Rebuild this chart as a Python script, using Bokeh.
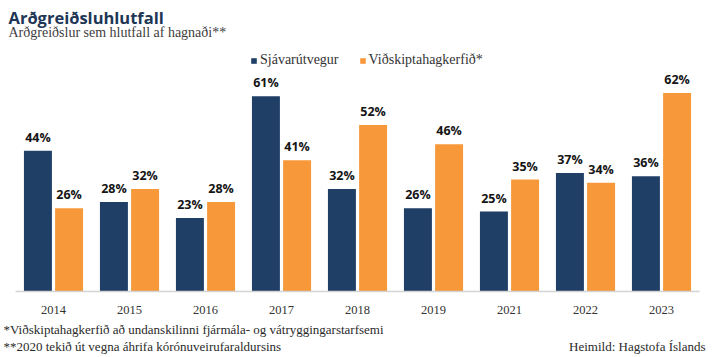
from bokeh.plotting import figure
from bokeh.layouts import column
from bokeh.models import FactorRange, Range1d, Label, Legend, LegendItem, ColumnDataSource
from bokeh.transform import dodge
from bokeh.core.properties import value
from bokeh.embed import file_html
from bokeh.resources import INLINE

years = ["2014", "2015", "2016", "2017", "2018", "2019", "2021", "2022", "2023"]
sjavarutvegur = [44, 28, 23, 61, 32, 26, 25, 37, 36]
vidskipta = [26, 32, 28, 41, 52, 46, 35, 34, 62]

title = "Arðgreiðsluhlutfall"
subtitle = "Arðgreiðslur sem hlutfall af hagnaði**"
series_names = ["Sjávarútvegur", "Viðskiptahagkerfið*"]
note1 = "*Viðskiptahagkerfið að undanskilinni fjármála- og vátryggingarstarfsemi"
note2 = "**2020 tekið út vegna áhrifa kórónuveirufaraldursins"
source_note = "Heimild: Hagstofa Íslands"

NAVY = "#1f3f66"
ORANGE = "#f7993b"
SERIF = "Liberation Serif"
W = 713


def blank(height):
    f = figure(width=W, height=height, x_range=Range1d(0, 1), y_range=Range1d(0, 1),
               min_border=0, min_border_left=0, min_border_right=0,
               min_border_top=0, min_border_bottom=0,
               x_axis_location=None, y_axis_location=None, frame_align=False,
               toolbar_location=None, output_backend="svg", outline_line_color=None,
               background_fill_color="white", border_fill_color="white")
    f.xgrid.grid_line_color = None
    f.ygrid.grid_line_color = None
    return f


def lab(f, x, y, text, **kw):
    f.add_layout(Label(x=x, y=y, x_units="screen", y_units="screen", text=text,
                       text_baseline="alphabetic", **kw))


# ---- header ----
head = blank(48)
lab(head, 8, 31.5, title, text_font="Open Sans", text_font_style="bold",
    text_font_size="16.5px", text_color="#1d3655")
lab(head, 8, 16, subtitle, text_font=SERIF, text_font_size="14px", text_color="#404040")

# ---- chart ----
src = ColumnDataSource(dict(
    year=years,
    a=sjavarutvegur,
    b=vidskipta,
    ta=[f"{v}%" for v in sjavarutvegur],
    tb=[f"{v}%" for v in vidskipta],
))

p = figure(width=W, height=273,
           x_range=FactorRange(*years, range_padding=0),
           y_range=Range1d(0, 243 / 3.2),
           min_border_left=15, min_border_right=14,
           min_border_top=0, min_border_bottom=30, frame_align=False,
           y_axis_location=None, toolbar_location=None,
           output_backend="svg", outline_line_color=None,
           background_fill_color="white", border_fill_color="white")

p.xgrid.grid_line_color = None
p.ygrid.grid_line_color = None

r1 = p.vbar(x=dodge("year", -0.205, range=p.x_range), top="a", width=0.368,
            source=src, fill_color=NAVY, line_color=None)
r2 = p.vbar(x=dodge("year", 0.205, range=p.x_range), top="b", width=0.368,
            source=src, fill_color=ORANGE, line_color=None)

for col, off in (("ta", -0.205), ("tb", 0.205)):
    p.text(x=dodge("year", off, range=p.x_range), y=col[1], text=col, source=src,
           text_align="center", text_baseline="alphabetic", y_offset=-13.5,
           text_font=value("Open Sans"), text_font_style="bold",
           text_font_size="12.5px", text_color="#141414")

ax = p.xaxis[0]
ax.axis_line_color = "#d4d4d4"
ax.axis_line_width = 1.5
ax.major_tick_line_color = None
ax.minor_tick_line_color = None
ax.major_label_text_font = SERIF
ax.major_label_text_font_size = "12.5px"
ax.major_label_text_color = "#333333"
ax.major_label_standoff = 8

legend = Legend(items=[LegendItem(label=series_names[0], renderers=[r1]),
                       LegendItem(label=series_names[1], renderers=[r2])],
                orientation="horizontal", location=(235, 223),
                glyph_width=7, glyph_height=7, label_height=14,
                label_standoff=3, spacing=20, padding=0, margin=0,
                label_text_font=SERIF, label_text_font_size="14px",
                label_text_color="#333333",
                border_line_color=None, background_fill_alpha=0)
p.add_layout(legend, "center")

# ---- footer ----
foot = blank(36)
lab(foot, 3, 28, note1, text_font=SERIF, text_font_size="13px", text_color="#2a2a2a")
lab(foot, 3, 11, note2, text_font=SERIF, text_font_size="13px", text_color="#2a2a2a")
lab(foot, 705, 11, source_note, text_font=SERIF, text_font_size="13px",
    text_color="#2a2a2a", text_align="right")

layout = column(head, p, foot, spacing=0)
open("out.html", "w").write(file_html(layout, INLINE))
